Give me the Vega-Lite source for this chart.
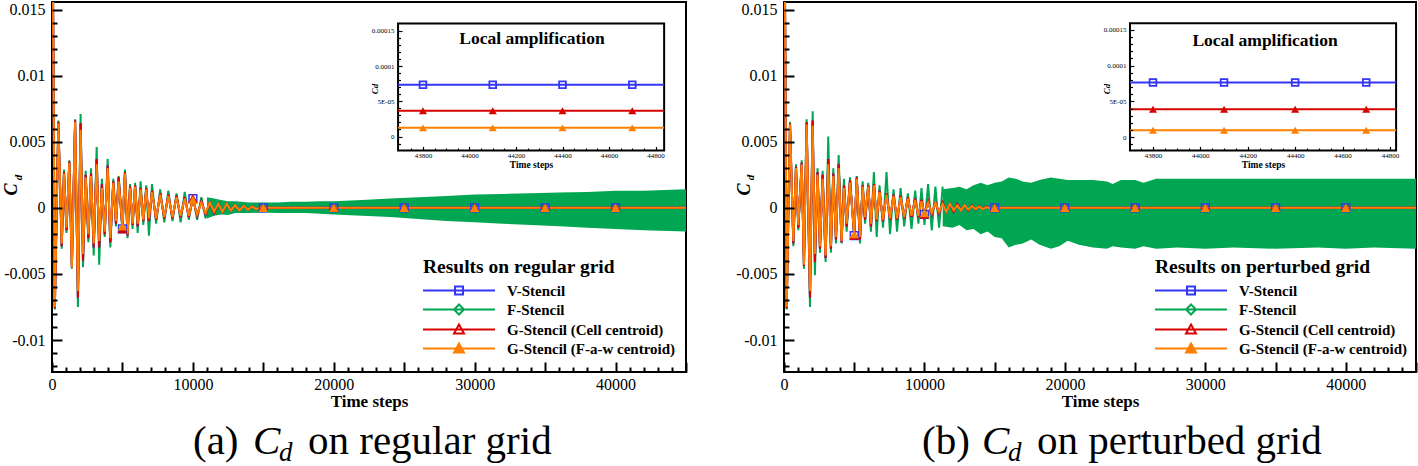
{
"$schema": "https://vega.github.io/schema/vega-lite/v6.json",
"background": "white",
"padding": {"left": 2, "top": 0, "right": 0, "bottom": 0},
"spacing": 46,
"config": {
  "view": {"stroke": "black", "strokeWidth": 2},
  "axis": {"labelFont": "Liberation Serif", "titleFont": "Liberation Serif", "labelColor": "black", "titleColor": "black", "tickColor": "black", "grid": false, "domain": false, "labelOverlap": false, "labelFlush": false, "tickCount": 1000},
  "text": {"font": "Liberation Serif", "color": "black"}
},
"datasets": {
  "sigA": [
    {"t":0,"o":0.03,"r":0.03,"g":0.03},
    {"t":200,"o":-0.0075,"r":-0.0076,"g":-0.0077},
    {"t":450,"o":0.0064,"r":0.0065,"g":0.0066},
    {"t":690,"o":-0.0027,"r":-0.0029,"g":-0.0031},
    {"t":850,"o":0.0026,"r":0.0027,"g":0.0029},
    {"t":1030,"o":-0.0015,"r":-0.0017,"g":-0.0019},
    {"t":1230,"o":0.0034,"r":0.0035,"g":0.0036},
    {"t":1410,"o":-0.0045,"r":-0.0045,"g":-0.0046},
    {"t":1640,"o":0.0065,"r":0.0066,"g":0.0067},
    {"t":1840,"o":-0.0063,"r":-0.0068,"g":-0.0075},
    {"t":2030,"o":0.0059,"r":0.0064,"g":0.0071},
    {"t":2200,"o":-0.0035,"r":-0.004,"g":-0.0045},
    {"t":2390,"o":0.0023,"r":0.0025,"g":0.0028},
    {"t":2580,"o":-0.002,"r":-0.0023,"g":-0.0026},
    {"t":2770,"o":0.0024,"r":0.0026,"g":0.003},
    {"t":2960,"o":-0.0027,"r":-0.003,"g":-0.0036},
    {"t":3170,"o":0.0033,"r":0.0037,"g":0.0046},
    {"t":3350,"o":-0.0025,"r":-0.003,"g":-0.0043},
    {"t":3540,"o":0.0015,"r":0.0018,"g":0.0022},
    {"t":3740,"o":-0.0018,"r":-0.002,"g":-0.0022},
    {"t":3950,"o":0.003,"r":0.0032,"g":0.0037},
    {"t":4140,"o":-0.0023,"r":-0.0026,"g":-0.003},
    {"t":4350,"o":0.0019,"r":0.002,"g":0.0022},
    {"t":4540,"o":-0.001,"r":-0.0012,"g":-0.0014},
    {"t":4730,"o":0.002,"r":0.0023,"g":0.0024},
    {"t":5000,"o":-0.0014,"r":-0.0016,"g":-0.0018},
    {"t":5180,"o":0.0026,"r":0.0027,"g":0.0029},
    {"t":5360,"o":-0.002,"r":-0.0021,"g":-0.0023},
    {"t":5540,"o":0.0015,"r":0.0016,"g":0.0018},
    {"t":5720,"o":-0.0012,"r":-0.0013,"g":-0.0016},
    {"t":5900,"o":0.0016,"r":0.0017,"g":0.0019},
    {"t":6080,"o":-0.0012,"r":-0.0014,"g":-0.0019},
    {"t":6290,"o":0.0014,"r":0.0015,"g":0.002},
    {"t":6480,"o":-0.0009,"r":-0.001,"g":-0.0013},
    {"t":6690,"o":0.0014,"r":0.0015,"g":0.0017},
    {"t":6880,"o":-0.0008,"r":-0.001,"g":-0.0021},
    {"t":7100,"o":0.0012,"r":0.0013,"g":0.0018},
    {"t":7390,"o":-0.0008,"r":-0.0009,"g":-0.0012},
    {"t":7680,"o":0.001,"r":0.0011,"g":0.0014},
    {"t":7970,"o":-0.0007,"r":-0.0008,"g":-0.0011},
    {"t":8260,"o":0.0009,"r":0.001,"g":0.0013},
    {"t":8550,"o":-0.0007,"r":-0.0008,"g":-0.001},
    {"t":8840,"o":0.0008,"r":0.0009,"g":0.0011},
    {"t":9130,"o":-0.0006,"r":-0.0007,"g":-0.0011},
    {"t":9420,"o":0.0007,"r":0.0008,"g":0.0012},
    {"t":9710,"o":-0.0006,"r":-0.0007,"g":-0.0009},
    {"t":10000,"o":0.0006,"r":0.0007,"g":0.0009},
    {"t":10300,"o":-0.0005,"r":-0.0006,"g":-0.0009},
    {"t":10600,"o":0.0004,"r":0.0005,"g":0.0008},
    {"t":10900,"o":-0.0004,"r":-0.0005,"g":-0.0008},
    {"t":11200,"o":0.0004,"r":0.0004,"g":0.0007},
    {"t":11500,"o":-0.0003,"r":-0.0004},
    {"t":11800,"o":0.0003,"r":0.0003},
    {"t":12100,"o":-0.0003,"r":-0.0003},
    {"t":12400,"o":0.0003,"r":0.0003},
    {"t":12700,"o":-0.0002,"r":-0.0002},
    {"t":13000,"o":0.0002,"r":0.0002},
    {"t":13300,"o":-0.0002,"r":-0.0002},
    {"t":13600,"o":0.00015,"r":0.00015},
    {"t":13900,"o":-0.00015,"r":-0.00015},
    {"t":14200,"o":0.0001,"r":0.0001},
    {"t":14500,"o":-0.0001,"r":-0.0001},
    {"t":14800,"o":0.00005,"r":0.00005},
    {"t":15000,"o":0,"r":0},
    {"t":20000,"o":0,"r":0},
    {"t":25000,"o":0,"r":0},
    {"t":30000,"o":0,"r":0},
    {"t":35000,"o":0,"r":0},
    {"t":40000,"o":0,"r":0},
    {"t":45000,"o":0,"r":0}
  ],
  "bandA": [
    {"t":11000,"lo":-0.0008,"hi":0.0008},
    {"t":11500,"lo":-0.0006,"hi":0.0007},
    {"t":12000,"lo":-0.0005,"hi":0.0006},
    {"t":12500,"lo":-0.00055,"hi":0.0005},
    {"t":13000,"lo":-0.0004,"hi":0.0005},
    {"t":14000,"lo":-0.0004,"hi":0.0004},
    {"t":15000,"lo":-0.00035,"hi":0.0004},
    {"t":16000,"lo":-0.0004,"hi":0.0004},
    {"t":17000,"lo":-0.0004,"hi":0.00045},
    {"t":18000,"lo":-0.0004,"hi":0.00045},
    {"t":19000,"lo":-0.00045,"hi":0.0005},
    {"t":20000,"lo":-0.0005,"hi":0.0005},
    {"t":22000,"lo":-0.0006,"hi":0.0006},
    {"t":24000,"lo":-0.0007,"hi":0.0007},
    {"t":26000,"lo":-0.00085,"hi":0.0008},
    {"t":28000,"lo":-0.001,"hi":0.0009},
    {"t":30000,"lo":-0.0011,"hi":0.001},
    {"t":32000,"lo":-0.0012,"hi":0.00105},
    {"t":34000,"lo":-0.0013,"hi":0.0011},
    {"t":36000,"lo":-0.0014,"hi":0.00115},
    {"t":38000,"lo":-0.0015,"hi":0.0012},
    {"t":40000,"lo":-0.0016,"hi":0.0013},
    {"t":42000,"lo":-0.0017,"hi":0.0013},
    {"t":45000,"lo":-0.0018,"hi":0.0014}
  ],
  "insA": [
    {"t":43693,"s":"b","v":0.0000734},{"t":43800,"s":"b","v":0.0000734},{"t":44100,"s":"b","v":0.0000734},{"t":44400,"s":"b","v":0.0000734},{"t":44700,"s":"b","v":0.0000734},{"t":44837,"s":"b","v":0.0000734},
    {"t":43693,"s":"r","v":0.0000365},{"t":43800,"s":"r","v":0.0000365},{"t":44100,"s":"r","v":0.0000365},{"t":44400,"s":"r","v":0.0000365},{"t":44700,"s":"r","v":0.0000365},{"t":44837,"s":"r","v":0.0000365},
    {"t":43693,"s":"o","v":0.0000123},{"t":43800,"s":"o","v":0.0000123},{"t":44100,"s":"o","v":0.0000123},{"t":44400,"s":"o","v":0.0000123},{"t":44700,"s":"o","v":0.0000123},{"t":44837,"s":"o","v":0.0000123}
  ],
  "sigB": [
    {"t":0,"o":0.03,"r":0.03,"g":0.03},
    {"t":190,"o":-0.0075,"r":-0.0076,"g":-0.0077},
    {"t":427,"o":0.0063,"r":0.0064,"g":0.0065},
    {"t":665,"o":-0.0025,"r":-0.0027,"g":-0.0029},
    {"t":854,"o":0.003,"r":0.0031,"g":0.0033},
    {"t":1020,"o":-0.0013,"r":-0.0015,"g":-0.0017},
    {"t":1260,"o":0.0033,"r":0.0034,"g":0.0036},
    {"t":1420,"o":-0.0043,"r":-0.0044,"g":-0.0046},
    {"t":1610,"o":0.0063,"r":0.0065,"g":0.0067},
    {"t":1850,"o":-0.0063,"r":-0.0068,"g":-0.0075},
    {"t":2040,"o":0.0062,"r":0.0066,"g":0.0073},
    {"t":2200,"o":-0.0035,"r":-0.0041,"g":-0.0051},
    {"t":2390,"o":0.0025,"r":0.0027,"g":0.003},
    {"t":2560,"o":-0.0029,"r":-0.0031,"g":-0.0034},
    {"t":2750,"o":0.0022,"r":0.0025,"g":0.0028},
    {"t":2960,"o":-0.0036,"r":-0.0038,"g":-0.0041},
    {"t":3150,"o":0.0033,"r":0.0037,"g":0.0054},
    {"t":3340,"o":-0.0029,"r":-0.0031,"g":-0.0034},
    {"t":3510,"o":0.0024,"r":0.0026,"g":0.003},
    {"t":3700,"o":-0.0022,"r":-0.0024,"g":-0.0027},
    {"t":3890,"o":0.003,"r":0.0033,"g":0.004},
    {"t":4100,"o":-0.0025,"r":-0.0026,"g":-0.0027},
    {"t":4270,"o":0.0015,"r":0.0017,"g":0.0022},
    {"t":4460,"o":-0.0012,"r":-0.0014,"g":-0.0018},
    {"t":4700,"o":0.0019,"r":0.0021,"g":0.0023},
    {"t":5000,"o":-0.002,"r":-0.0021,"g":-0.0023},
    {"t":5180,"o":0.0022,"r":0.0023,"g":0.0024},
    {"t":5410,"o":-0.0022,"r":-0.0024,"g":-0.0027},
    {"t":5600,"o":0.0016,"r":0.0017,"g":0.002},
    {"t":5770,"o":-0.0007,"r":-0.0009,"g":-0.0012},
    {"t":6000,"o":0.0016,"r":0.0017,"g":0.0019},
    {"t":6190,"o":-0.0012,"r":-0.0014,"g":-0.0018},
    {"t":6400,"o":0.0017,"r":0.0018,"g":0.0027},
    {"t":6600,"o":-0.0009,"r":-0.001,"g":-0.0022},
    {"t":6800,"o":0.0012,"r":0.0013,"g":0.0017},
    {"t":7050,"o":-0.0009,"r":-0.001,"g":-0.0015},
    {"t":7300,"o":0.001,"r":0.0011,"g":0.0027},
    {"t":7550,"o":-0.0008,"r":-0.0009,"g":-0.002},
    {"t":7800,"o":0.0009,"r":0.001,"g":0.0014},
    {"t":8050,"o":-0.0008,"r":-0.0009,"g":-0.0018},
    {"t":8300,"o":0.0008,"r":0.0009,"g":0.0015},
    {"t":8560,"o":-0.0007,"r":-0.0008,"g":-0.0014},
    {"t":8820,"o":0.0007,"r":0.0008,"g":0.0011},
    {"t":9080,"o":-0.0006,"r":-0.0007,"g":-0.0016},
    {"t":9340,"o":0.0006,"r":0.0007,"g":0.0013},
    {"t":9570,"o":-0.0006,"r":-0.0007,"g":-0.0012},
    {"t":9790,"o":0.0005,"r":0.0006,"g":0.0015},
    {"t":10000,"o":-0.0004,"r":-0.0005,"g":-0.0013},
    {"t":10260,"o":0.0004,"r":0.0005,"g":0.0018},
    {"t":10520,"o":-0.0004,"r":-0.0005,"g":-0.0017},
    {"t":10780,"o":0.0004,"r":0.0004,"g":0.0016},
    {"t":11040,"o":-0.0003,"r":-0.0004,"g":-0.0015},
    {"t":11300,"o":0.0003,"r":0.0004,"g":0.0016},
    {"t":11560,"o":-0.0003,"r":-0.0003},
    {"t":11820,"o":0.0003,"r":0.0003},
    {"t":12080,"o":-0.0002,"r":-0.0003},
    {"t":12340,"o":0.0002,"r":0.0003},
    {"t":12600,"o":-0.0002,"r":-0.0002},
    {"t":12860,"o":0.0002,"r":0.0002},
    {"t":13120,"o":-0.00015,"r":-0.0002},
    {"t":13380,"o":0.00015,"r":0.0002},
    {"t":13640,"o":-0.0001,"r":-0.00015},
    {"t":13900,"o":0.0001,"r":0.00015},
    {"t":14160,"o":-0.0001,"r":-0.0001},
    {"t":14420,"o":0.00005,"r":0.0001},
    {"t":14700,"o":-0.00005,"r":-0.00005},
    {"t":15000,"o":0,"r":0},
    {"t":20000,"o":0,"r":0},
    {"t":25000,"o":0,"r":0},
    {"t":30000,"o":0,"r":0},
    {"t":35000,"o":0,"r":0},
    {"t":40000,"o":0,"r":0},
    {"t":45000,"o":0,"r":0}
  ],
  "bandB": [
    {"t":11300,"lo":-0.0014,"hi":0.0014},
    {"t":12000,"lo":-0.0015,"hi":0.0015},
    {"t":12500,"lo":-0.0013,"hi":0.0016},
    {"t":13000,"lo":-0.0017,"hi":0.0014},
    {"t":13500,"lo":-0.0016,"hi":0.0017},
    {"t":14000,"lo":-0.002,"hi":0.0019},
    {"t":14500,"lo":-0.0018,"hi":0.0017},
    {"t":15000,"lo":-0.0022,"hi":0.0019},
    {"t":15500,"lo":-0.0023,"hi":0.002},
    {"t":16000,"lo":-0.003,"hi":0.0023},
    {"t":16500,"lo":-0.0028,"hi":0.0022},
    {"t":17000,"lo":-0.0027,"hi":0.002},
    {"t":17600,"lo":-0.0024,"hi":0.0019},
    {"t":18200,"lo":-0.0028,"hi":0.0021},
    {"t":19000,"lo":-0.0031,"hi":0.0023},
    {"t":19600,"lo":-0.0029,"hi":0.0022},
    {"t":20200,"lo":-0.0025,"hi":0.0021},
    {"t":21000,"lo":-0.0028,"hi":0.0021},
    {"t":22000,"lo":-0.003,"hi":0.0021},
    {"t":23000,"lo":-0.0031,"hi":0.002},
    {"t":23400,"lo":-0.0029,"hi":0.0018},
    {"t":24000,"lo":-0.003,"hi":0.0021},
    {"t":25000,"lo":-0.0031,"hi":0.0021},
    {"t":25600,"lo":-0.0029,"hi":0.0019},
    {"t":26500,"lo":-0.0031,"hi":0.0022},
    {"t":28000,"lo":-0.003,"hi":0.0022},
    {"t":30000,"lo":-0.0031,"hi":0.0022},
    {"t":32000,"lo":-0.003,"hi":0.0022},
    {"t":35000,"lo":-0.0031,"hi":0.0022},
    {"t":38000,"lo":-0.003,"hi":0.0022},
    {"t":40000,"lo":-0.0031,"hi":0.0022},
    {"t":42000,"lo":-0.003,"hi":0.0022},
    {"t":45000,"lo":-0.0031,"hi":0.0022}
  ],
  "insB": [
    {"t":43703,"s":"b","v":0.0000764},{"t":43800,"s":"b","v":0.0000764},{"t":44100,"s":"b","v":0.0000764},{"t":44400,"s":"b","v":0.0000764},{"t":44700,"s":"b","v":0.0000764},{"t":44826,"s":"b","v":0.0000764},
    {"t":43703,"s":"r","v":0.0000391},{"t":43800,"s":"r","v":0.0000391},{"t":44100,"s":"r","v":0.0000391},{"t":44400,"s":"r","v":0.0000391},{"t":44700,"s":"r","v":0.0000391},{"t":44826,"s":"r","v":0.0000391},
    {"t":43703,"s":"o","v":0.0000098},{"t":43800,"s":"o","v":0.0000098},{"t":44100,"s":"o","v":0.0000098},{"t":44400,"s":"o","v":0.0000098},{"t":44700,"s":"o","v":0.0000098},{"t":44826,"s":"o","v":0.0000098}
  ]
},
"resolve": {"scale": {"shape": "independent", "stroke": "independent", "fill": "independent"}, "legend": {"shape": "independent", "stroke": "independent", "fill": "independent"}},
"hconcat": [
 {
  "width": 634, "height": 370,
  "resolve": {"scale": {"x": "independent", "y": "independent"}},
  "layer": [
   {"layer": [
     {"data": {"name": "bandA"}, "mark": {"type": "area", "color": "#00A651", "clip": true, "opacity": 1},
      "encoding": {
        "x": {"field": "t", "type": "quantitative", "scale": {"domain": [0, 45000], "nice": false, "zero": false},
          "axis": {"orient": "bottom", "tickCount": 1000, "values": [0,1000,2000,3000,4000,5000,6000,7000,8000,9000,10000,11000,12000,13000,14000,15000,16000,17000,18000,19000,20000,21000,22000,23000,24000,25000,26000,27000,28000,29000,30000,31000,32000,33000,34000,35000,36000,37000,38000,39000,40000,41000,42000,43000,44000,45000],
            "tickSize": 0, "tickWidth": 2, "encoding": {"ticks": {"y2": {"condition": {"test": "datum.value % 5000 === 0", "value": -10}, "value": -5}}},
            "labelExpr": "datum.value % 10000 === 0 ? '' + datum.value : ''", "labelFontSize": 16, "labelPadding": 4, "labelFlush": false, "labelOverlap": false,
            "title": "Time steps", "titleFontSize": 17, "titleFontWeight": "bold", "titleBaseline": "alphabetic", "titleY": 34, "zindex": 1}},
        "y": {"field": "lo", "type": "quantitative", "scale": {"domain": [-0.01242, 0.01557], "nice": false, "zero": false},
          "axis": {"orient": "left", "tickCount": 1000, "values": [-0.012,-0.011,-0.01,-0.009,-0.008,-0.007,-0.006,-0.005,-0.004,-0.003,-0.002,-0.001,0,0.001,0.002,0.003,0.004,0.005,0.006,0.007,0.008,0.009,0.01,0.011,0.012,0.013,0.014,0.015],
            "tickSize": 0, "tickWidth": 2, "encoding": {"ticks": {"x2": {"condition": {"test": "abs(round(datum.value * 1000)) % 5 === 0", "value": 10}, "value": 5}}},
            "labelExpr": "abs(round(datum.value * 1000)) % 5 === 0 ? '' + datum.value : ''", "labelFontSize": 16, "labelPadding": 7, "labelOverlap": false, "labelFlush": false,
            "title": null, "zindex": 1}},
        "y2": {"field": "hi"}
      }},
     {"data": {"name": "sigA"}, "mark": {"type": "line", "color": "#00A651", "strokeWidth": 2, "clip": true, "invalid": "filter"},
      "encoding": {"x": {"field": "t", "type": "quantitative"}, "y": {"field": "g", "type": "quantitative"}}},
     {"data": {"name": "sigA"}, "mark": {"type": "line", "color": "#3535F5", "strokeWidth": 2, "clip": true, "invalid": "filter"},
      "encoding": {"x": {"field": "t", "type": "quantitative"}, "y": {"field": "r", "type": "quantitative"}}},
     {"data": {"name": "sigA"}, "mark": {"type": "line", "color": "#D90000", "strokeWidth": 2, "clip": true, "invalid": "filter"},
      "encoding": {"x": {"field": "t", "type": "quantitative"}, "y": {"field": "r", "type": "quantitative"}}},
     {"data": {"name": "sigA"}, "mark": {"type": "line", "color": "#FF8000", "strokeWidth": 2, "clip": true, "invalid": "filter"},
      "encoding": {"x": {"field": "t", "type": "quantitative"}, "y": {"field": "o", "type": "quantitative"}}},
     {"data": {"name": "sigA"}, "transform": [{"filter": "datum.t > 0 && datum.t < 45000 && datum.t % 5000 === 0"}],
      "mark": {"type": "point", "shape": "square", "filled": false, "color": "#3535F5", "strokeWidth": 1.5, "size": 60, "opacity": 1},
      "encoding": {"x": {"field": "t", "type": "quantitative"}, "y": {"field": "r", "type": "quantitative"}}},
     {"data": {"name": "sigA"}, "transform": [{"filter": "datum.t > 0 && datum.t < 45000 && datum.t % 5000 === 0"}],
      "mark": {"type": "point", "shape": "triangle-up", "filled": true, "color": "#D90000", "size": 95, "opacity": 1},
      "encoding": {"x": {"field": "t", "type": "quantitative"}, "y": {"field": "r", "type": "quantitative"}}},
     {"data": {"name": "sigA"}, "transform": [{"filter": "datum.t > 0 && datum.t < 45000 && datum.t % 5000 === 0"}],
      "mark": {"type": "point", "shape": "triangle-up", "filled": true, "color": "#FF8000", "size": 90, "opacity": 1},
      "encoding": {"x": {"field": "t", "type": "quantitative"}, "y": {"field": "o", "type": "quantitative"}}},
     {"data": {"values": [{}]}, "mark": {"type": "text", "text": "(a)", "fontSize": 41, "align": "left", "baseline": "alphabetic"},
      "encoding": {"x": {"datum": 10008, "type": "quantitative"}, "y": {"datum": -0.018586, "type": "quantitative"}}},
     {"data": {"values": [{}]}, "mark": {"type": "text", "text": "C", "fontSize": 41, "fontStyle": "italic", "align": "left", "baseline": "alphabetic"},
      "encoding": {"x": {"datum": 14267, "type": "quantitative"}, "y": {"datum": -0.018586, "type": "quantitative"}}},
     {"data": {"values": [{}]}, "mark": {"type": "text", "text": "d", "fontSize": 27, "fontStyle": "italic", "align": "left", "baseline": "alphabetic"},
      "encoding": {"x": {"datum": 16112, "type": "quantitative"}, "y": {"datum": -0.019115, "type": "quantitative"}}},
     {"data": {"values": [{}]}, "mark": {"type": "text", "text": "on regular grid", "fontSize": 41, "align": "left", "baseline": "alphabetic"},
      "encoding": {"x": {"datum": 18171, "type": "quantitative"}, "y": {"datum": -0.018586, "type": "quantitative"}}},
     {"data": {"values": [{}]}, "mark": {"type": "text", "text": "C", "fontSize": 18, "fontStyle": "italic", "fontWeight": "bold", "angle": 270, "align": "center", "baseline": "alphabetic"},
      "encoding": {"x": {"datum": -2449, "type": "quantitative"}, "y": {"datum": 0.001386, "type": "quantitative"}}},
     {"data": {"values": [{}]}, "mark": {"type": "text", "text": "d", "fontSize": 11, "fontStyle": "italic", "fontWeight": "bold", "angle": 270, "align": "center", "baseline": "alphabetic"},
      "encoding": {"x": {"datum": -2129, "type": "quantitative"}, "y": {"datum": 0.002294, "type": "quantitative"}}},
     {"data": {"values": [{"s": "V-Stencil"}]}, "transform": [{"filter": "false"}],
      "mark": {"type": "point", "filled": true, "strokeWidth": 2, "opacity": 1},
      "encoding": {
        "stroke": {"field": "s", "type": "nominal", "scale": {"domain": ["V-Stencil", "F-Stencil", "G-Stencil (Cell centroid)", "G-Stencil (F-a-w centroid)"], "range": ["#3535F5", "#00A651", "#D90000", "#FF8000"]},
          "legend": {"orient": "none", "legendX": 371, "legendY": 256, "title": "Results on regular grid", "titleFont": "Liberation Serif", "titleFontSize": 19.5, "titleFontWeight": "bold", "titleColor": "black", "titlePadding": 5, "titleLimit": 0, "labelFont": "Liberation Serif", "labelFontSize": 15, "labelFontWeight": "bold", "labelColor": "black", "labelOffset": 68, "labelLimit": 0, "symbolSize": 196, "symbolStrokeWidth": 2, "symbolOffset": 0, "rowPadding": 2, "padding": 0}},
        "shape": {"field": "s", "type": "nominal", "scale": {"domain": ["V-Stencil", "F-Stencil", "G-Stencil (Cell centroid)", "G-Stencil (F-a-w centroid)"], "range": ["M-1.143,0H9.143M3.43,-0.57H4.57V0.57H3.43Z", "M-1.143,0H9.143M4,-0.71L4.71,0L4,0.71L3.29,0Z", "M-1.143,0H9.143M4,-0.71L4.71,0.57H3.29Z", "M-1.143,0H9.143M4,-0.71L4.71,0.57H3.29Z"]},
          "legend": {"orient": "none", "legendX": 371, "legendY": 256, "title": "Results on regular grid", "titleFont": "Liberation Serif", "titleFontSize": 19.5, "titleFontWeight": "bold", "titleColor": "black", "titlePadding": 5, "titleLimit": 0, "labelFont": "Liberation Serif", "labelFontSize": 15, "labelFontWeight": "bold", "labelColor": "black", "labelOffset": 68, "labelLimit": 0, "symbolSize": 196, "symbolStrokeWidth": 2, "symbolOffset": 0, "rowPadding": 2, "padding": 0}},
        "fill": {"field": "s", "type": "nominal", "scale": {"domain": ["V-Stencil", "F-Stencil", "G-Stencil (Cell centroid)", "G-Stencil (F-a-w centroid)"], "range": ["transparent", "transparent", "transparent", "#FF8000"]},
          "legend": {"orient": "none", "legendX": 371, "legendY": 256, "title": "Results on regular grid", "titleFont": "Liberation Serif", "titleFontSize": 19.5, "titleFontWeight": "bold", "titleColor": "black", "titlePadding": 5, "titleLimit": 0, "labelFont": "Liberation Serif", "labelFontSize": 15, "labelFontWeight": "bold", "labelColor": "black", "labelOffset": 68, "labelLimit": 0, "symbolSize": 196, "symbolStrokeWidth": 2, "symbolOffset": 0, "rowPadding": 2, "padding": 0}}
      }}
   ]},
   {"layer": [
     {"data": {"values": [{}]}, "mark": {"type": "rect", "fill": "white", "stroke": "black", "strokeWidth": 2},
      "encoding": {
        "x": {"datum": 43693, "type": "quantitative", "scale": {"domain": [42205, 44931], "nice": false, "zero": false},
          "axis": {"orient": "bottom", "tickCount": 1000, "offset": -221.5, "values": [43750,43800,43850,43900,43950,44000,44050,44100,44150,44200,44250,44300,44350,44400,44450,44500,44550,44600,44650,44700,44750,44800],
            "tickSize": 0, "tickWidth": 1.2, "encoding": {"ticks": {"y2": {"condition": {"test": "datum.value % 200 === 0", "value": -4}, "value": -2.5}}},
            "labelExpr": "datum.value % 200 === 0 ? '' + datum.value : ''", "labelFontSize": 7, "labelPadding": 1, "labelFlush": false, "labelOverlap": false,
            "title": "Time steps", "titleFontSize": 9.5, "titleFontWeight": "bold", "titleX": 479, "titleY": 17, "titleBaseline": "alphabetic", "zindex": 2}},
        "x2": {"datum": 44837},
        "y": {"datum": -0.0000198, "type": "quantitative", "scale": {"domain": [-0.0003341, 0.0001909], "nice": false, "zero": false},
          "axis": {"orient": "left", "tickCount": 1000, "offset": -346, "values": [-0.00001,0,0.00001,0.00002,0.00003,0.00004,0.00005,0.00006,0.00007,0.00008,0.00009,0.0001,0.00011,0.00012,0.00013,0.00014,0.00015],
            "tickSize": 0, "tickWidth": 1.2, "encoding": {"ticks": {"x2": {"condition": {"test": "abs(round(datum.value * 100000)) % 5 === 0", "value": 4}, "value": 2.5}}},
            "labelExpr": "datum.value === 0 ? '0' : abs(datum.value - 0.00005) < 1e-9 ? '5E-05' : abs(datum.value - 0.0001) < 1e-9 ? '0.0001' : abs(datum.value - 0.00015) < 1e-9 ? '0.00015' : ''",
            "labelFontSize": 7, "labelPadding": 4, "labelOverlap": false, "labelFlush": false,
            "title": "Cd", "titleFontSize": 9, "titleFontWeight": "bold", "titleFontStyle": "italic", "titleAngle": 270, "titleX": -21, "titleY": 86.5, "titleBaseline": "alphabetic", "titleAlign": "center", "zindex": 2}},
        "y2": {"datum": 0.0001604}
      }},
     {"data": {"name": "insA"}, "transform": [{"filter": "datum.s === 'b'"}], "mark": {"type": "line", "color": "#3535F5", "strokeWidth": 2},
      "encoding": {"x": {"field": "t", "type": "quantitative"}, "y": {"field": "v", "type": "quantitative"}}},
     {"data": {"name": "insA"}, "transform": [{"filter": "datum.s === 'r'"}], "mark": {"type": "line", "color": "#D90000", "strokeWidth": 2},
      "encoding": {"x": {"field": "t", "type": "quantitative"}, "y": {"field": "v", "type": "quantitative"}}},
     {"data": {"name": "insA"}, "transform": [{"filter": "datum.s === 'o'"}], "mark": {"type": "line", "color": "#FF8000", "strokeWidth": 2},
      "encoding": {"x": {"field": "t", "type": "quantitative"}, "y": {"field": "v", "type": "quantitative"}}},
     {"data": {"name": "insA"}, "transform": [{"filter": "datum.s === 'b' && datum.t % 300 === 0"}], "mark": {"type": "point", "shape": "square", "filled": false, "color": "#3535F5", "strokeWidth": 1.8, "size": 45, "opacity": 1},
      "encoding": {"x": {"field": "t", "type": "quantitative"}, "y": {"field": "v", "type": "quantitative"}}},
     {"data": {"name": "insA"}, "transform": [{"filter": "datum.s === 'r' && datum.t % 300 === 0"}], "mark": {"type": "point", "shape": "triangle-up", "filled": true, "color": "#D90000", "size": 65, "opacity": 1},
      "encoding": {"x": {"field": "t", "type": "quantitative"}, "y": {"field": "v", "type": "quantitative"}}},
     {"data": {"name": "insA"}, "transform": [{"filter": "datum.s === 'o' && datum.t % 300 === 0"}], "mark": {"type": "point", "shape": "triangle-up", "filled": true, "color": "#FF8000", "size": 65, "opacity": 1},
      "encoding": {"x": {"field": "t", "type": "quantitative"}, "y": {"field": "v", "type": "quantitative"}}},
     {"data": {"values": [{}]}, "mark": {"type": "text", "text": "Local amplification", "fontSize": 17.5, "fontWeight": "bold", "align": "center", "baseline": "alphabetic"},
      "encoding": {"x": {"datum": 44269, "type": "quantitative"}, "y": {"datum": 0.0001306, "type": "quantitative"}}}
   ]}
  ]
 },
 {
  "width": 632, "height": 370,
  "resolve": {"scale": {"x": "independent", "y": "independent"}},
  "layer": [
   {"layer": [
     {"data": {"name": "bandB"}, "mark": {"type": "area", "color": "#00A651", "clip": true, "opacity": 1},
      "encoding": {
        "x": {"field": "t", "type": "quantitative", "scale": {"domain": [0, 45000], "nice": false, "zero": false},
          "axis": {"orient": "bottom", "tickCount": 1000, "values": [0,1000,2000,3000,4000,5000,6000,7000,8000,9000,10000,11000,12000,13000,14000,15000,16000,17000,18000,19000,20000,21000,22000,23000,24000,25000,26000,27000,28000,29000,30000,31000,32000,33000,34000,35000,36000,37000,38000,39000,40000,41000,42000,43000,44000,45000],
            "tickSize": 0, "tickWidth": 2, "encoding": {"ticks": {"y2": {"condition": {"test": "datum.value % 5000 === 0", "value": -10}, "value": -5}}},
            "labelExpr": "datum.value % 10000 === 0 ? '' + datum.value : ''", "labelFontSize": 16, "labelPadding": 4, "labelFlush": false, "labelOverlap": false,
            "title": "Time steps", "titleFontSize": 17, "titleFontWeight": "bold", "titleBaseline": "alphabetic", "titleY": 34, "zindex": 1}},
        "y": {"field": "lo", "type": "quantitative", "scale": {"domain": [-0.01242, 0.01557], "nice": false, "zero": false},
          "axis": {"orient": "left", "tickCount": 1000, "values": [-0.012,-0.011,-0.01,-0.009,-0.008,-0.007,-0.006,-0.005,-0.004,-0.003,-0.002,-0.001,0,0.001,0.002,0.003,0.004,0.005,0.006,0.007,0.008,0.009,0.01,0.011,0.012,0.013,0.014,0.015],
            "tickSize": 0, "tickWidth": 2, "encoding": {"ticks": {"x2": {"condition": {"test": "abs(round(datum.value * 1000)) % 5 === 0", "value": 10}, "value": 5}}},
            "labelExpr": "abs(round(datum.value * 1000)) % 5 === 0 ? '' + datum.value : ''", "labelFontSize": 16, "labelPadding": 7, "labelOverlap": false, "labelFlush": false,
            "title": null, "zindex": 1}},
        "y2": {"field": "hi"}
      }},
     {"data": {"name": "sigB"}, "mark": {"type": "line", "color": "#00A651", "strokeWidth": 2, "clip": true, "invalid": "filter"},
      "encoding": {"x": {"field": "t", "type": "quantitative"}, "y": {"field": "g", "type": "quantitative"}}},
     {"data": {"name": "sigB"}, "mark": {"type": "line", "color": "#3535F5", "strokeWidth": 2, "clip": true, "invalid": "filter"},
      "encoding": {"x": {"field": "t", "type": "quantitative"}, "y": {"field": "r", "type": "quantitative"}}},
     {"data": {"name": "sigB"}, "mark": {"type": "line", "color": "#D90000", "strokeWidth": 2, "clip": true, "invalid": "filter"},
      "encoding": {"x": {"field": "t", "type": "quantitative"}, "y": {"field": "r", "type": "quantitative"}}},
     {"data": {"name": "sigB"}, "mark": {"type": "line", "color": "#FF8000", "strokeWidth": 2, "clip": true, "invalid": "filter"},
      "encoding": {"x": {"field": "t", "type": "quantitative"}, "y": {"field": "o", "type": "quantitative"}}},
     {"data": {"name": "sigB"}, "transform": [{"filter": "datum.t > 0 && datum.t < 45000 && datum.t % 5000 === 0"}],
      "mark": {"type": "point", "shape": "square", "filled": false, "color": "#3535F5", "strokeWidth": 1.5, "size": 60, "opacity": 1},
      "encoding": {"x": {"field": "t", "type": "quantitative"}, "y": {"field": "r", "type": "quantitative"}}},
     {"data": {"name": "sigB"}, "transform": [{"filter": "datum.t > 0 && datum.t < 45000 && datum.t % 5000 === 0"}],
      "mark": {"type": "point", "shape": "triangle-up", "filled": true, "color": "#D90000", "size": 95, "opacity": 1},
      "encoding": {"x": {"field": "t", "type": "quantitative"}, "y": {"field": "r", "type": "quantitative"}}},
     {"data": {"name": "sigB"}, "transform": [{"filter": "datum.t > 0 && datum.t < 45000 && datum.t % 5000 === 0"}],
      "mark": {"type": "point", "shape": "triangle-up", "filled": true, "color": "#FF8000", "size": 90, "opacity": 1},
      "encoding": {"x": {"field": "t", "type": "quantitative"}, "y": {"field": "o", "type": "quantitative"}}},
     {"data": {"values": [{}]}, "mark": {"type": "text", "text": "(b)", "fontSize": 41, "align": "left", "baseline": "alphabetic"},
      "encoding": {"x": {"datum": 9826, "type": "quantitative"}, "y": {"datum": -0.018586, "type": "quantitative"}}},
     {"data": {"values": [{}]}, "mark": {"type": "text", "text": "C", "fontSize": 41, "fontStyle": "italic", "align": "left", "baseline": "alphabetic"},
      "encoding": {"x": {"datum": 14098, "type": "quantitative"}, "y": {"datum": -0.018586, "type": "quantitative"}}},
     {"data": {"values": [{}]}, "mark": {"type": "text", "text": "d", "fontSize": 27, "fontStyle": "italic", "align": "left", "baseline": "alphabetic"},
      "encoding": {"x": {"datum": 15949, "type": "quantitative"}, "y": {"datum": -0.019115, "type": "quantitative"}}},
     {"data": {"values": [{}]}, "mark": {"type": "text", "text": "on perturbed grid", "fontSize": 41, "align": "left", "baseline": "alphabetic"},
      "encoding": {"x": {"datum": 18014, "type": "quantitative"}, "y": {"datum": -0.018586, "type": "quantitative"}}},
     {"data": {"values": [{}]}, "mark": {"type": "text", "text": "C", "fontSize": 18, "fontStyle": "italic", "fontWeight": "bold", "angle": 270, "align": "center", "baseline": "alphabetic"},
      "encoding": {"x": {"datum": -2456, "type": "quantitative"}, "y": {"datum": 0.001386, "type": "quantitative"}}},
     {"data": {"values": [{}]}, "mark": {"type": "text", "text": "d", "fontSize": 11, "fontStyle": "italic", "fontWeight": "bold", "angle": 270, "align": "center", "baseline": "alphabetic"},
      "encoding": {"x": {"datum": -2136, "type": "quantitative"}, "y": {"datum": 0.002294, "type": "quantitative"}}},
     {"data": {"values": [{"s": "V-Stencil"}]}, "transform": [{"filter": "false"}],
      "mark": {"type": "point", "filled": true, "strokeWidth": 2, "opacity": 1},
      "encoding": {
        "stroke": {"field": "s", "type": "nominal", "scale": {"domain": ["V-Stencil", "F-Stencil", "G-Stencil (Cell centroid)", "G-Stencil (F-a-w centroid)"], "range": ["#3535F5", "#00A651", "#D90000", "#FF8000"]},
          "legend": {"orient": "none", "legendX": 371, "legendY": 256, "title": "Results on perturbed grid", "titleFont": "Liberation Serif", "titleFontSize": 19.5, "titleFontWeight": "bold", "titleColor": "black", "titlePadding": 5, "titleLimit": 0, "labelFont": "Liberation Serif", "labelFontSize": 15, "labelFontWeight": "bold", "labelColor": "black", "labelOffset": 68, "labelLimit": 0, "symbolSize": 196, "symbolStrokeWidth": 2, "symbolOffset": 0, "rowPadding": 2, "padding": 0}},
        "shape": {"field": "s", "type": "nominal", "scale": {"domain": ["V-Stencil", "F-Stencil", "G-Stencil (Cell centroid)", "G-Stencil (F-a-w centroid)"], "range": ["M-1.143,0H9.143M3.43,-0.57H4.57V0.57H3.43Z", "M-1.143,0H9.143M4,-0.71L4.71,0L4,0.71L3.29,0Z", "M-1.143,0H9.143M4,-0.71L4.71,0.57H3.29Z", "M-1.143,0H9.143M4,-0.71L4.71,0.57H3.29Z"]},
          "legend": {"orient": "none", "legendX": 371, "legendY": 256, "title": "Results on perturbed grid", "titleFont": "Liberation Serif", "titleFontSize": 19.5, "titleFontWeight": "bold", "titleColor": "black", "titlePadding": 5, "titleLimit": 0, "labelFont": "Liberation Serif", "labelFontSize": 15, "labelFontWeight": "bold", "labelColor": "black", "labelOffset": 68, "labelLimit": 0, "symbolSize": 196, "symbolStrokeWidth": 2, "symbolOffset": 0, "rowPadding": 2, "padding": 0}},
        "fill": {"field": "s", "type": "nominal", "scale": {"domain": ["V-Stencil", "F-Stencil", "G-Stencil (Cell centroid)", "G-Stencil (F-a-w centroid)"], "range": ["transparent", "transparent", "transparent", "#FF8000"]},
          "legend": {"orient": "none", "legendX": 371, "legendY": 256, "title": "Results on perturbed grid", "titleFont": "Liberation Serif", "titleFontSize": 19.5, "titleFontWeight": "bold", "titleColor": "black", "titlePadding": 5, "titleLimit": 0, "labelFont": "Liberation Serif", "labelFontSize": 15, "labelFontWeight": "bold", "labelColor": "black", "labelOffset": 68, "labelLimit": 0, "symbolSize": 196, "symbolStrokeWidth": 2, "symbolOffset": 0, "rowPadding": 2, "padding": 0}}
      }}
   ]},
   {"layer": [
     {"data": {"values": [{}]}, "mark": {"type": "rect", "fill": "white", "stroke": "black", "strokeWidth": 2},
      "encoding": {
        "x": {"datum": 43703, "type": "quantitative", "scale": {"domain": [42243, 44910], "nice": false, "zero": false},
          "axis": {"orient": "bottom", "tickCount": 1000, "offset": -221.5, "values": [43750,43800,43850,43900,43950,44000,44050,44100,44150,44200,44250,44300,44350,44400,44450,44500,44550,44600,44650,44700,44750,44800],
            "tickSize": 0, "tickWidth": 1.2, "encoding": {"ticks": {"y2": {"condition": {"test": "datum.value % 200 === 0", "value": -4}, "value": -2.5}}},
            "labelExpr": "datum.value % 200 === 0 ? '' + datum.value : ''", "labelFontSize": 7, "labelPadding": 1, "labelFlush": false, "labelOverlap": false,
            "title": "Time steps", "titleFontSize": 9.5, "titleFontWeight": "bold", "titleX": 479, "titleY": 17, "titleBaseline": "alphabetic", "zindex": 2}},
        "x2": {"datum": 44826},
        "y": {"datum": -0.0000186, "type": "quantitative", "scale": {"domain": [-0.0003279, 0.0001888], "nice": false, "zero": false},
          "axis": {"orient": "left", "tickCount": 1000, "offset": -346, "values": [-0.00001,0,0.00001,0.00002,0.00003,0.00004,0.00005,0.00006,0.00007,0.00008,0.00009,0.0001,0.00011,0.00012,0.00013,0.00014,0.00015],
            "tickSize": 0, "tickWidth": 1.2, "encoding": {"ticks": {"x2": {"condition": {"test": "abs(round(datum.value * 100000)) % 5 === 0", "value": 4}, "value": 2.5}}},
            "labelExpr": "datum.value === 0 ? '0' : abs(datum.value - 0.00005) < 1e-9 ? '5E-05' : abs(datum.value - 0.0001) < 1e-9 ? '0.0001' : abs(datum.value - 0.00015) < 1e-9 ? '0.00015' : ''",
            "labelFontSize": 7, "labelPadding": 4, "labelOverlap": false, "labelFlush": false,
            "title": "Cd", "titleFontSize": 9, "titleFontWeight": "bold", "titleFontStyle": "italic", "titleAngle": 270, "titleX": -21, "titleY": 86.5, "titleBaseline": "alphabetic", "titleAlign": "center", "zindex": 2}},
        "y2": {"datum": 0.0001592}
      }},
     {"data": {"name": "insB"}, "transform": [{"filter": "datum.s === 'b'"}], "mark": {"type": "line", "color": "#3535F5", "strokeWidth": 2},
      "encoding": {"x": {"field": "t", "type": "quantitative"}, "y": {"field": "v", "type": "quantitative"}}},
     {"data": {"name": "insB"}, "transform": [{"filter": "datum.s === 'r'"}], "mark": {"type": "line", "color": "#D90000", "strokeWidth": 2},
      "encoding": {"x": {"field": "t", "type": "quantitative"}, "y": {"field": "v", "type": "quantitative"}}},
     {"data": {"name": "insB"}, "transform": [{"filter": "datum.s === 'o'"}], "mark": {"type": "line", "color": "#FF8000", "strokeWidth": 2},
      "encoding": {"x": {"field": "t", "type": "quantitative"}, "y": {"field": "v", "type": "quantitative"}}},
     {"data": {"name": "insB"}, "transform": [{"filter": "datum.s === 'b' && datum.t % 300 === 0"}], "mark": {"type": "point", "shape": "square", "filled": false, "color": "#3535F5", "strokeWidth": 1.8, "size": 45, "opacity": 1},
      "encoding": {"x": {"field": "t", "type": "quantitative"}, "y": {"field": "v", "type": "quantitative"}}},
     {"data": {"name": "insB"}, "transform": [{"filter": "datum.s === 'r' && datum.t % 300 === 0"}], "mark": {"type": "point", "shape": "triangle-up", "filled": true, "color": "#D90000", "size": 65, "opacity": 1},
      "encoding": {"x": {"field": "t", "type": "quantitative"}, "y": {"field": "v", "type": "quantitative"}}},
     {"data": {"name": "insB"}, "transform": [{"filter": "datum.s === 'o' && datum.t % 300 === 0"}], "mark": {"type": "point", "shape": "triangle-up", "filled": true, "color": "#FF8000", "size": 65, "opacity": 1},
      "encoding": {"x": {"field": "t", "type": "quantitative"}, "y": {"field": "v", "type": "quantitative"}}},
     {"data": {"values": [{}]}, "mark": {"type": "text", "text": "Local amplification", "fontSize": 17.5, "fontWeight": "bold", "align": "center", "baseline": "alphabetic"},
      "encoding": {"x": {"datum": 44273, "type": "quantitative"}, "y": {"datum": 0.0001267, "type": "quantitative"}}}
   ]}
  ]
 }
]
}
